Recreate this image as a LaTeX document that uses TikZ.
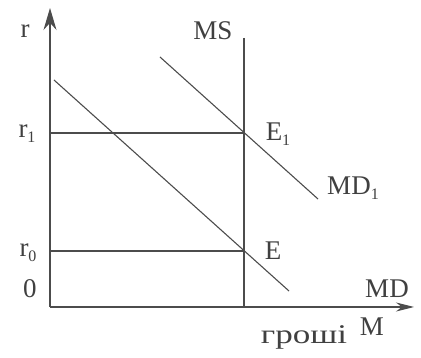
\documentclass[tikz,border=0pt]{standalone}
\usepackage{fontspec}
\setmainfont{Liberation Serif}
\usetikzlibrary{arrows.meta}
\newcommand{\lowsub}[1]{\raisebox{-5pt}{\fontsize{16}{16}\selectfont #1}}
\tikzset{
  ln/.style={line width=1.1pt, draw=black!70},
  lbl/.style={inner sep=0pt, text=black!75, font=\fontsize{27}{30}\selectfont},
  axarrow/.style={-{Stealth[length=22pt,width=13pt]}},
}
\begin{document}
\begin{tikzpicture}[x=1pt,y=-1pt]
\useasboundingbox (0,0) rectangle (421,358);
% key points
\coordinate (O) at (50,307);
\coordinate (ytop) at (50,8);
\coordinate (xend) at (414,307);
\coordinate (mstop) at (244,38);
\coordinate (msbot) at (244,307);
\coordinate (E1p) at (244,133);
\coordinate (Ep) at (244,251);
\coordinate (r1p) at (50,133);
\coordinate (r0p) at (50,251);
\coordinate (mda) at (54,80);
\coordinate (mdb) at (289,291);
\coordinate (mdoa) at (160,57);
\coordinate (mdob) at (318,199);
% axes
\draw[ln, axarrow] (O) -- (ytop);
\draw[ln, -{Stealth[length=18pt,width=9pt]}] (O) -- (xend);
% money supply
\draw[ln] (mstop) -- (msbot);
% demand curves
\draw[ln] (mda) -- (mdb);
\draw[ln] (mdoa) -- (mdob);
% interest levels
\draw[ln] (r1p) -- (E1p);
\draw[ln] (r0p) -- (Ep);
% labels
\node[lbl] (lr) at (25,31) {r};
\node[lbl] (lms) at (213,31) {MS};
\node[lbl] (lr1) at (27,134) {r\lowsub{1}};
\node[lbl] (lr0) at (28,253) {r\lowsub{0}};
\node[lbl] (l0) at (30,289) {0};
\node[lbl] (lE1) at (278,134) {E\lowsub{1}};
\node[lbl] (lMD1) at (353,188) {MD\lowsub{1}};
\node[lbl] (lE) at (273,251) {E};
\node[lbl] (lMD) at (387,289) {MD};
\node[lbl] (lM) at (372,327) {M};
\node[lbl] (lg) at (304,337) {\scalebox{1.3}[1]{гроші}};
\end{tikzpicture}
\end{document}
